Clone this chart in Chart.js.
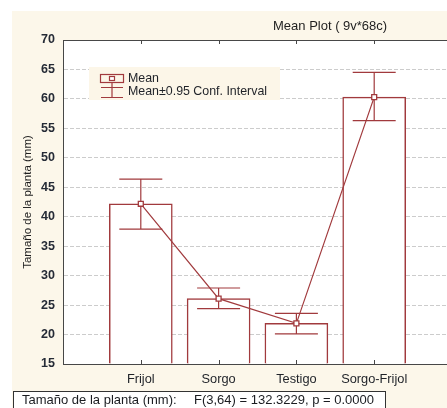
<!DOCTYPE html>
<html>
<head>
<meta charset="utf-8">
<script src="https://cdn.jsdelivr.net/npm/chart.js@4"></script>
<style>
  html, body { margin: 0; padding: 0; background: #fff; overflow: hidden; width: 447px; height: 408px; }
  #bg { position: absolute; left: 12px; top: 11px; width: 460px; height: 400px; background: #fcf7ea; }
  #wrap { position: absolute; left: 0; top: 0; width: 460px; height: 408px; }
</style>
</head>
<body>
<div id="bg"></div>
<div id="wrap"><canvas id="meanPlot" width="460" height="408"></canvas></div>
<script>
const groups = ['Frijol', 'Sorgo', 'Testigo', 'Sorgo-Frijol']
const means = [42.2, 26.1, 21.9, 60.3]
const ciLow = [37.9, 24.4, 20.1, 56.3]
const ciHigh = [46.4, 27.9, 23.6, 64.5]
const titleText = 'Mean Plot ( 9v*68c)'
const yTitle = 'Tamaño de la planta (mm)'
const statLabel = 'Tamaño de la planta (mm):'
const statText = 'F(3,64) = 132.3229, p = 0.0000'

const red = '#a13a3d'
const frame = '#474747'
const font = '"Liberation Sans", Arial, sans-serif'

const points = means.map((m, i) => ({ x: i + 1, y: m }))

const meanPlotDecor = {
    id: 'meanPlotDecor',
    beforeDraw(chart) {
        const { ctx, chartArea: a } = chart
        ctx.save()
        ctx.fillStyle = '#fff'
        ctx.fillRect(a.left, a.top, a.right - a.left, a.bottom - a.top)
        ctx.restore()
    },
    afterDatasetDraw(chart, args) {
        if (args.meta.type !== 'bar') return
        const { ctx } = chart
        const xs = chart.scales.x, ys = chart.scales.y
        ctx.save()
        ctx.strokeStyle = red
        ctx.lineWidth = 1.2
        groups.forEach((g, i) => {
            const px = xs.getPixelForValue(i + 1)
            const hi = ys.getPixelForValue(ciHigh[i])
            const lo = ys.getPixelForValue(ciLow[i])
            ctx.beginPath()
            ctx.moveTo(px, hi); ctx.lineTo(px, lo)
            ctx.moveTo(px - 21.5, hi); ctx.lineTo(px + 21.5, hi)
            ctx.moveTo(px - 21.5, lo); ctx.lineTo(px + 21.5, lo)
            ctx.stroke()
        })
        ctx.restore()
    },
    afterDraw(chart) {
        const { ctx, chartArea: a } = chart
        const xs = chart.scales.x
        ctx.save()
        // frame + category ticks
        ctx.strokeStyle = frame
        ctx.lineWidth = 1
        ctx.strokeRect(a.left + 0.5, a.top + 0.5, a.right - a.left, a.bottom - a.top)
        groups.forEach((g, i) => {
            const px = Math.round(xs.getPixelForValue(i + 1)) + 0.5
            ctx.beginPath()
            ctx.moveTo(px, a.top); ctx.lineTo(px, a.top + 4)
            ctx.moveTo(px, a.bottom); ctx.lineTo(px, a.bottom - 4)
            ctx.stroke()
        })

        // legend
        ctx.fillStyle = '#fcf6e8'
        ctx.fillRect(89, 67, 191, 33)
        ctx.strokeStyle = red
        ctx.lineWidth = 1.2
        ctx.strokeRect(100.5, 74.5, 23, 8)
        ctx.fillStyle = '#fff'
        ctx.fillRect(109, 76, 5, 5)
        ctx.strokeRect(109.5, 76.5, 5, 4)
        ctx.beginPath()
        ctx.moveTo(112, 83); ctx.lineTo(112, 97)
        ctx.moveTo(101, 87.5); ctx.lineTo(123, 87.5)
        ctx.moveTo(101, 97.5); ctx.lineTo(123, 97.5)
        ctx.stroke()
        ctx.fillStyle = '#1f2228'
        ctx.font = '12.4px ' + font
        ctx.textBaseline = 'middle'
        ctx.textAlign = 'left'
        ctx.fillText('Mean', 128, 79)
        ctx.fillText('Mean±0.95 Conf. Interval', 128, 92)

        // title
        ctx.font = '13px ' + font
        ctx.fillStyle = '#1f1f1f'
        ctx.fillText(titleText, 273, 26)

        // y axis title
        ctx.save()
        ctx.translate(28, 202)
        ctx.rotate(-Math.PI / 2)
        ctx.textAlign = 'center'
        ctx.font = '11.5px ' + font
        ctx.fillStyle = '#1f1f1f'
        ctx.fillText(yTitle, 0, 0)
        ctx.restore()

        // statistics box
        ctx.fillStyle = '#fff'
        ctx.fillRect(13, 391, 372, 20)
        ctx.strokeStyle = '#333'
        ctx.lineWidth = 1
        ctx.strokeRect(13.5, 391.5, 372, 20)
        ctx.fillStyle = '#1a1c20'
        ctx.font = '13px ' + font
        ctx.fillText(statLabel, 22, 400)
        ctx.fillText(statText, 194, 400)
        ctx.restore()
    }
}

const configMeanPlot = {
    data: {
        datasets: [{
            type: 'bar',
            label: 'Mean',
            data: points,
            order: 2,
            backgroundColor: '#fff',
            borderColor: red,
            borderWidth: 1.5,
            borderSkipped: 'bottom',
            barThickness: 63,
            base: 15
        }, {
            type: 'line',
            label: 'Mean line',
            data: points,
            order: 1,
            borderColor: red,
            borderWidth: 1.2,
            pointStyle: 'rect',
            pointRadius: 3.5,
            pointBackgroundColor: '#fff',
            pointBorderColor: red,
            pointBorderWidth: 1.3
        }]
    },
    options: {
        responsive: false,
        animation: false,
        events: [],
        devicePixelRatio: 1,
        layout: { padding: { left: 0, top: 40, right: 7, bottom: 0 } },
        plugins: {
            legend: { display: false },
            tooltip: { enabled: false }
        },
        scales: {
            x: {
                type: 'linear',
                min: 0,
                max: 5,
                offset: false,
                afterFit: (s) => { s.height = 44 },
                grid: { display: false, drawTicks: false },
                border: { color: frame },
                ticks: {
                    stepSize: 1,
                    autoSkip: false,
                    maxRotation: 0,
                    padding: 8,
                    color: '#1f2228',
                    font: { family: font, size: 12.8 },
                    callback: (v) => groups[v - 1] || ''
                }
            },
            y: {
                type: 'linear',
                min: 15,
                max: 70,
                afterFit: (s) => { s.width = 63 },
                grid: { color: '#cccccc', drawTicks: false },
                border: { color: frame, dash: [4, 2] },
                ticks: {
                    stepSize: 5,
                    padding: 8,
                    color: '#252b36',
                    font: { family: font, size: 12.5, weight: 'bold' }
                }
            }
        }
    },
    plugins: [meanPlotDecor]
}

const MeanPlot = new Chart(document.getElementById('meanPlot'), configMeanPlot)
</script>
</body>
</html>
